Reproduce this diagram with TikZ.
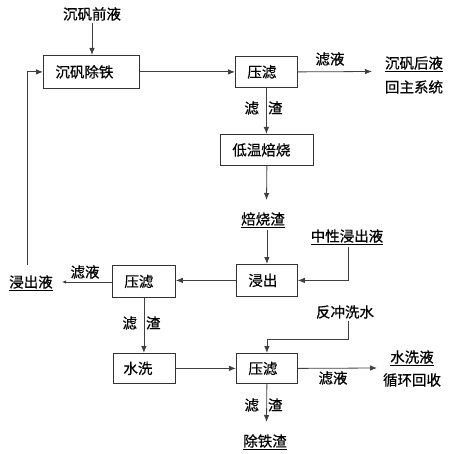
\documentclass[tikz,border=0pt]{standalone}
\usepackage{fontspec}
\setmainfont{Noto Sans CJK SC}[FakeBold=0.6]
\usetikzlibrary{arrows.meta}
\begin{document}
\begin{tikzpicture}[x=1pt,y=-1pt,
  every node/.style={font=\fontsize{14.5}{16}\selectfont, text=black},
  boxnode/.style={draw=black!80, line width=0.8pt, inner xsep=12pt, inner ysep=0pt, align=left, anchor=north west},
  txt/.style={inner sep=2pt},
  ln/.style={draw=black!75, line width=0.8pt},
  arr/.style={ln, -{Latex[length=7pt,width=5.5pt]}},
  sarr/.style={ln, -{Latex[length=4pt,width=3.5pt]}}
]
\useasboundingbox (0,0) rectangle (451,454);
% boxes
\node[boxnode, text width=72pt, minimum height=33pt] (b1) at (43,55) {沉矾除铁};
\node[boxnode, text width=38pt, minimum height=31pt] (f1) at (235,56) {压滤};
\node[boxnode, text width=69pt, minimum height=31pt] (r) at (220,134) {低温焙烧};
\node[boxnode, text width=37pt, minimum height=32pt] (j) at (236,264) {浸出};
\node[boxnode, text width=39pt, minimum height=32pt] (f2) at (112,265) {压滤};
\node[boxnode, inner xsep=10pt, text width=42pt, minimum height=30pt] (w) at (113,353) {水洗};
\node[boxnode, text width=37pt, minimum height=30pt] (f3) at (236,353) {压滤};
% texts
\node[txt] (t0) at (92,14) {沉矾前液};
\node[txt] (l1) at (330,59) {滤液};
\node[txt] (o1) at (414,64) {\underline{沉矾后液}};
\node[txt] (o1b) at (414,87) {回主系统};
\node[txt] (l2) at (263.5,108) {滤\hspace{9pt}渣};
\node[txt] (ash) at (263,220) {\underline{焙烧渣}};
\node[txt] (nl) at (347,237) {\underline{中性浸出液}};
\node[txt] (lye) at (31,283) {\underline{浸出液}};
\node[txt] (l3) at (85,272) {滤液};
\node[txt] (l4) at (141.5,323) {滤\hspace{9pt}渣};
\node[txt] (bw) at (345,312) {反冲洗水};
\node[txt] (l5) at (333,378) {滤液};
\node[txt] (o2) at (412,358) {\underline{水洗液}};
\node[txt] (o2b) at (412,380) {循环回收};
\node[txt] (l6) at (263.5,405) {滤\hspace{9pt}渣};
\node[txt] (fe) at (265,442) {\underline{除铁渣}};
% coordinates
\coordinate (e1) at (372,71.5);
\coordinate (a1) at (266.5,200);
\coordinate (fb) at (27,265);
\coordinate (k) at (348,339);
\coordinate (e2) at (377,368);
\coordinate (e3) at (266.5,422);
% connectors
\draw[arr] (t0.south) -- (t0.south |- b1.north);
\draw[arr] (b1.east) -- (f1.west);
\draw[arr] (f1.east) -- (e1);
\draw[arr] (f1.south) -- (f1.south |- r.north);
\draw[arr] (r.south) -- (a1);
\draw[arr] (ash.south -| j.north) -- (j.north);
\draw[arr] (nl.south -| k) |- (j.east);
\draw[arr] (j.west) -- (f2.east |- j.west);
\draw[sarr] (f2.west |- 0,282) -- (62,282);
\draw[arr] (fb) |- (b1.west);
\draw[arr] (f2.south) -- (f2.south |- w.north);
\draw[arr] (w.east) -- (f3.west);
\draw[arr] (bw.south -| k) -- (k) -| (f3.north);
\draw[arr] (f3.east) -- (e2);
\draw[arr] (f3.south) -- (e3);
\end{tikzpicture}
\end{document}
